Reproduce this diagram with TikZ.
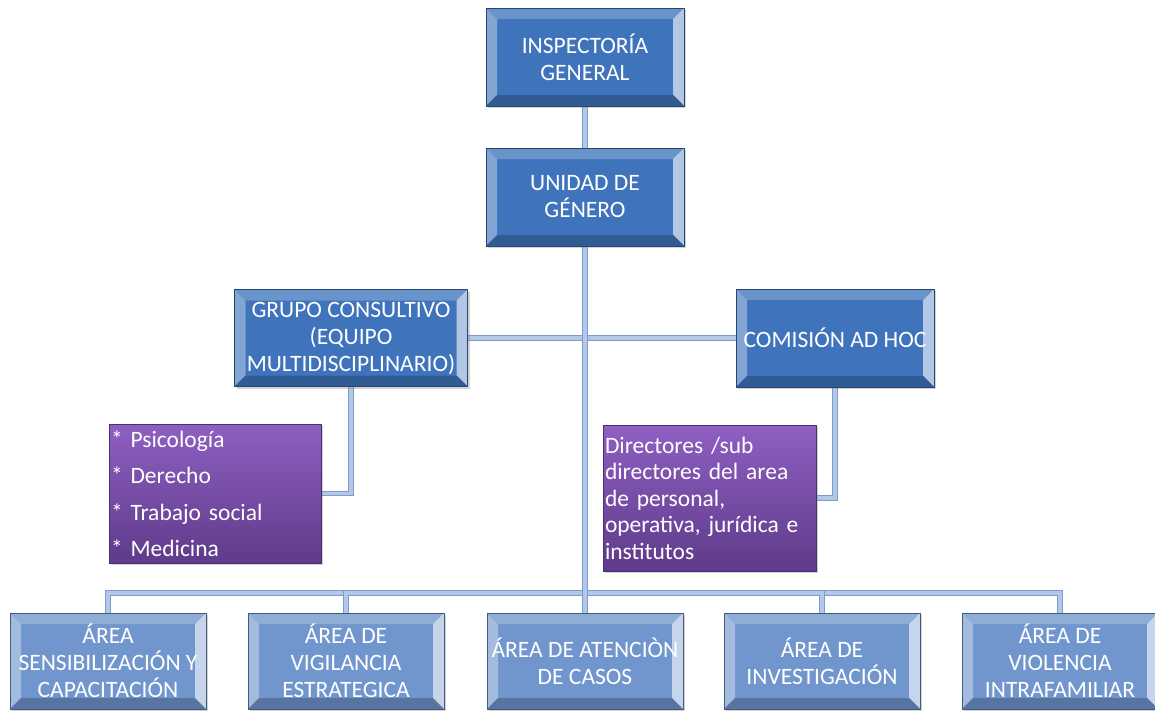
\documentclass[tikz,border=0pt]{standalone}
\usepackage{fontspec}
\setmainfont{Carlito}
\usetikzlibrary{calc,positioning,shadows,backgrounds}

\definecolor{boxblue}{HTML}{3F74BC}
\definecolor{areablue}{HTML}{7096CD}
\definecolor{lilatop}{HTML}{8E5FC2}
\definecolor{lilabot}{HTML}{5F3B8A}
\definecolor{conndark}{HTML}{7F9BC9}
\definecolor{connlight}{HTML}{B3C8E8}

% bevel bands of a box, #1 = base colour
\newcommand{\bevelfill}[1]{%
  \coordinate (bsw) at (path picture bounding box.south west);
  \coordinate (bne) at (path picture bounding box.north east);
  \coordinate (bnw) at (path picture bounding box.north west);
  \coordinate (bse) at (path picture bounding box.south east);
  \fill[#1!78!white] (bnw) -- (bne) -- ($(bne)+(-11pt,-11pt)$) -- ($(bnw)+(11pt,-11pt)$) -- cycle;
  \fill[#1!65!white] (bnw) -- ($(bnw)+(11pt,-11pt)$) -- ($(bsw)+(11pt,11pt)$) -- (bsw) -- cycle;
  \fill[#1!40!white] (bne) -- ($(bne)+(-11pt,-11pt)$) -- ($(bse)+(-11pt,11pt)$) -- (bse) -- cycle;
  \fill[#1!78!black] (bsw) -- ($(bsw)+(11pt,11pt)$) -- ($(bse)+(-11pt,11pt)$) -- (bse) -- cycle;
}

\tikzset{
  unitbox/.style={rectangle, fill=boxblue, draw=boxblue!60!black, line width=0.6pt,
    minimum width=198pt, minimum height=98pt, inner sep=0pt, text=white, align=center,
    font=\fontsize{23.5}{27}\selectfont, path picture={\bevelfill{boxblue}},
    drop shadow={opacity=0.35, shadow xshift=2pt, shadow yshift=-2pt}},
  areabox/.style={unitbox, fill=areablue, draw=areablue!60!black,
    minimum width=196pt, minimum height=96pt, path picture={\bevelfill{areablue}}},
  listbox/.style={rectangle, top color=lilatop, bottom color=lilabot, draw=lilabot!80!black,
    line width=0.4pt, inner xsep=2pt, inner ysep=0pt, text=white, align=left,
    font=\fontsize{23.5}{26.5}\selectfont,
    drop shadow={opacity=0.35, shadow xshift=2pt, shadow yshift=-2pt}},
  conn/.style={draw=conndark, line width=0.8pt, double=connlight, double distance=3.6pt}
}

\begin{document}
\begin{tikzpicture}[x=1pt, y=-1pt]
  \useasboundingbox (0,0) rectangle (1155,712);

  \node[unitbox] (inspect) at (585,57) {INSPECTORÍA\\GENERAL};
  \node[unitbox] (unidad) at (585,197) {UNIDAD DE\\GÉNERO};
  \node[unitbox, minimum width=233pt, minimum height=97pt] (grupo) at (351,338)
    {GRUPO CONSULTIVO\\(EQUIPO\\MULTIDISCIPLINARIO)};
  \node[unitbox] (comision) at (835,338) {COMISIÓN AD HOC};

  \node[listbox, minimum width=212pt, minimum height=139pt, text width=208pt] (psico) at (215,493.5)
    {* Psicología\\[10pt]* Derecho\\[10pt]* Trabajo social\\[10pt]* Medicina};
  \node[listbox, minimum width=213pt, minimum height=146pt, text width=209pt] (direct) at (709.5,498)
    {Directores /sub\\directores del area\\de personal,\\operativa, jurídica e\\institutos};

  \node[areabox] (sensib) at (108,661) {ÁREA\\SENSIBILIZACIÓN Y\\CAPACITACIÓN};
  \node[areabox] (vigil) at (346,661) {ÁREA DE\\VIGILANCIA\\ESTRATEGICA};
  \node[areabox] (atencion) at (585,661) {ÁREA DE ATENCIÒN\\DE CASOS};
  \node[areabox] (invest) at (822,661) {ÁREA DE\\INVESTIGACIÓN};
  \node[areabox] (violen) at (1060,661) {ÁREA DE\\VIOLENCIA\\INTRAFAMILIAR};

  \coordinate (bus) at (585,593);

  \begin{scope}[on background layer]
    \draw[conn] (inspect.south) -- (unidad.north);
    \draw[conn] (grupo.east) -- (comision.west);
    \draw[conn] (grupo.south) |- (psico.east);
    \draw[conn] (comision.south) |- (direct.east);
    \draw[conn] (sensib.north) |- (bus) -| (violen.north);
    \draw[conn] (vigil.north) |- (bus) -| (invest.north);
    \draw[conn] (unidad.south) -- (atencion.north);
  \end{scope}
\end{tikzpicture}
\end{document}
